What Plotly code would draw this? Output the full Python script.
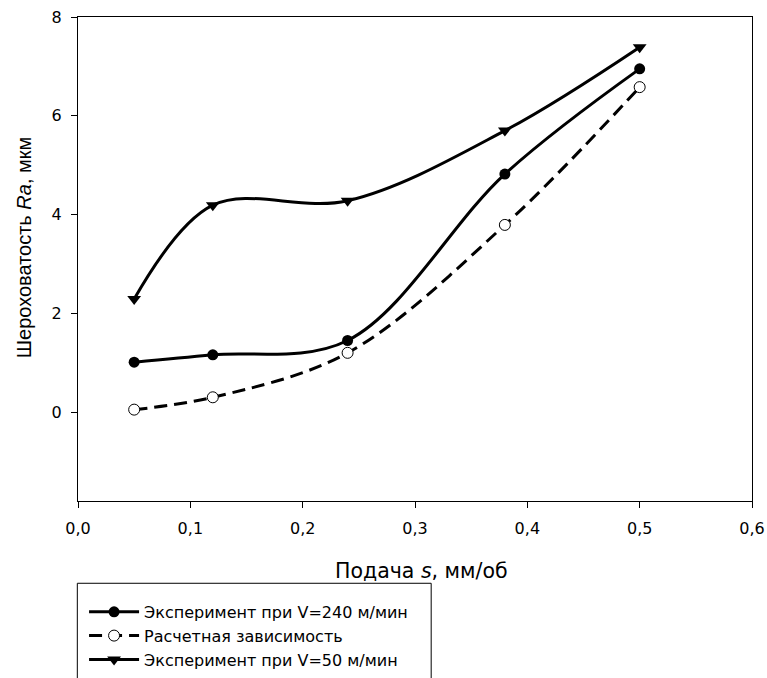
import plotly.graph_objects as go

# Feed rate, mm/rev
feed = [0.05, 0.12, 0.24, 0.38, 0.50]

# Surface roughness Ra, µm
ra_v240 = [1.01, 1.16, 1.45, 4.82, 6.95]
ra_calc = [0.05, 0.30, 1.20, 3.79, 6.58]
ra_v50 = [2.29, 4.19, 4.28, 5.70, 7.39]

names = [
    "Эксперимент при V=240 м/мин",
    "Расчетная зависимость",
    "Эксперимент при V=50 м/мин",
]

x_ticks = [0.0, 0.1, 0.2, 0.3, 0.4, 0.5, 0.6]
y_ticks = [0, 2, 4, 6, 8]

WIDE = "DejaVu Sans, Verdana, sans-serif"
ARIAL = "Liberation Sans, Arial, sans-serif"

fig = go.Figure()
fig.add_trace(go.Scatter(
    x=feed, y=ra_v240, name=names[0], mode="lines+markers",
    line=dict(color="black", width=3, shape="spline", smoothing=1.0),
    marker=dict(symbol="circle", size=11, color="black"),
))
fig.add_trace(go.Scatter(
    x=feed, y=ra_calc, name=names[1], mode="lines+markers",
    line=dict(color="black", width=3, dash="13px,7px", shape="spline", smoothing=1.0),
    marker=dict(symbol="circle", size=11, color="white",
                line=dict(color="black", width=1)),
))
fig.add_trace(go.Scatter(
    x=feed, y=ra_v50, name=names[2], mode="lines+markers",
    line=dict(color="black", width=3, shape="spline", smoothing=1.0),
    marker=dict(symbol="triangle-down", size=12, color="black"),
))

axis_common = dict(
    showgrid=False, zeroline=False, showline=True, linecolor="black",
    linewidth=1, mirror=True, ticks="outside", ticklen=6, tickwidth=1,
    tickcolor="black", automargin=False,
    tickfont=dict(family=WIDE, size=16, color="black"),
)

fig.update_xaxes(range=[0, 0.6], tickvals=x_ticks, tickformat=".1f",
                 ticklabelstandoff=7, **axis_common)
fig.update_yaxes(range=[-1.8, 8], tickvals=y_ticks,
                 ticklabelstandoff=6, **axis_common)

fig.update_layout(
    width=767, height=678,
    margin=dict(l=78, r=15, t=17, b=177, autoexpand=False),
    plot_bgcolor="white", paper_bgcolor="white",
    separators=", ",
    showlegend=True,
    legend=dict(
        x=0.009, y=-0.194, xanchor="left", yanchor="top",
        bgcolor="rgba(0,0,0,0)", borderwidth=0,
        font=dict(family=WIDE, size=16, color="black"),
        itemwidth=50, tracegroupgap=0,
    ),
    annotations=[
        dict(text="Подача <i>s</i>, мм/об", xref="paper", yref="paper",
             x=0.509, y=-0.145, xanchor="center", yanchor="middle",
             showarrow=False, font=dict(family=WIDE, size=20.5, color="black")),
        dict(text="Шероховатость <i>Ra</i>, мкм", xref="paper", yref="paper",
             x=-0.081, y=0.525, xanchor="center", yanchor="middle", textangle=-90,
             showarrow=False, font=dict(family=ARIAL, size=20, color="black")),
    ],
    shapes=[
        dict(type="rect", xref="paper", yref="paper",
             x0=-0.001, x1=0.524, y0=-0.170, y1=-0.45,
             line=dict(color="black", width=1), fillcolor="rgba(0,0,0,0)"),
    ],
)

fig.write_html("out.html")
